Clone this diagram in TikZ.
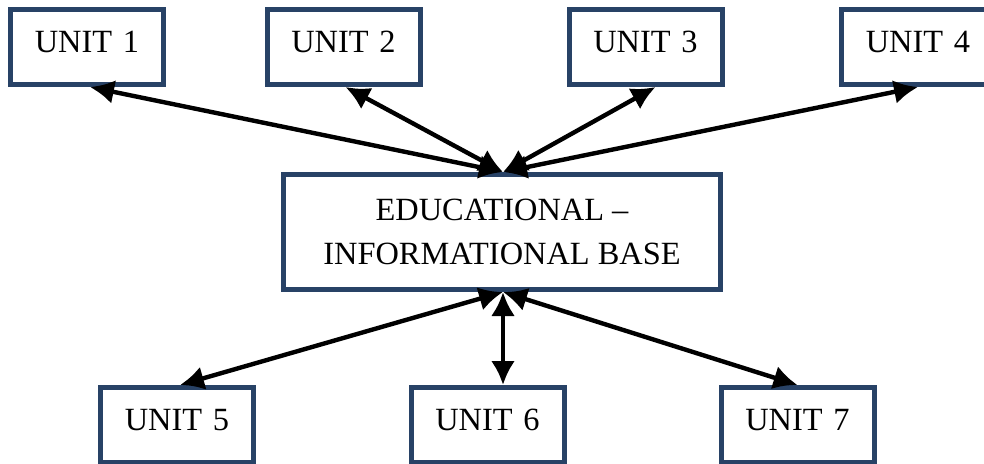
\documentclass[tikz,border=0pt]{standalone}
\usepackage{fontspec}
\setmainfont{Liberation Serif}
\usetikzlibrary{arrows.meta}
\definecolor{boxblue}{RGB}{40,66,102}
\begin{document}
\begin{tikzpicture}[x=0.5pt,y=-0.5pt,
	unit/.style={draw=boxblue,line width=2.5pt,inner sep=0pt,text width=76.5pt,align=center,
		text height=21.25pt,text depth=16.25pt,font=\fontsize{16.2}{22}\selectfont},
	base/.style={draw=boxblue,line width=2.5pt,inner sep=0pt,minimum width=218.5pt,minimum height=57.5pt,
		align=center,font=\fontsize{16.2}{22}\selectfont},
	link/.style={{Latex[length=12pt,width=12pt]}-{Latex[length=12pt,width=12pt]},line width=2.2pt}]
	\useasboundingbox (0,0) rectangle (984,463);
	\node[unit] (AA) at (87,47) {UNIT 1};
	\node[unit] (AB) at (343.5,47) {UNIT 2};
	\node[unit] (AC) at (645.5,47) {UNIT 3};
	\node[unit] (AD) at (918,47) {UNIT 4};
	\node[base] (AE) at (502,232) {EDUCATIONAL --\\INFORMATIONAL BASE};
	\node[unit] (AF) at (177,425) {UNIT 5};
	\node[unit] (AG) at (487.5,425) {UNIT 6};
	\node[unit] (AH) at (797.5,425) {UNIT 7};
	
	\coordinate (T) at ([xshift=0.5pt]AE.north);
	\coordinate (B) at ([xshift=0.5pt]AE.south);
	\draw[link] ([xshift=1.5pt]AA.south)--(T);
	\draw[link] ([xshift=1pt]AB.south)--(T);
	\draw[link] ([xshift=5pt]AC.south)--(T);
	\draw[link] (AD.south)--(T);
	\draw[link] (B)--([xshift=1.5pt]AF.north);
	\draw[link] (B)--([xshift=7.75pt]AG.north);
	\draw[link] (B)--(AH.north);
\end{tikzpicture}
\end{document}
